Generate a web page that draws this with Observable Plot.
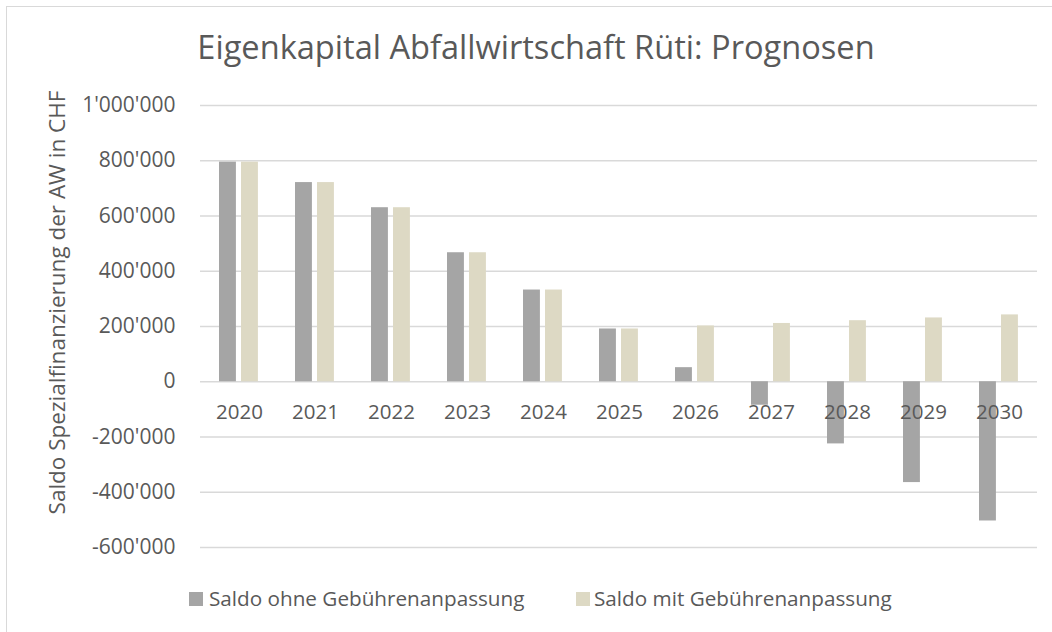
<!DOCTYPE html>
<html>
<head>
<meta charset="utf-8">
<script src="https://cdn.jsdelivr.net/npm/d3@7"></script>
<script src="https://cdn.jsdelivr.net/npm/@observablehq/plot@0.6"></script>
<style>
  html, body { margin: 0; padding: 0; background: #fff; overflow: hidden; }
  #wrap { position: relative; width: 1052px; height: 632px; font-family: "Open Sans", sans-serif; color: #595959; }
  #frame { position: absolute; left: 6px; top: 6px; width: 1100px; height: 700px; border: 1px solid #d9d9d9; pointer-events: none; }
  #title { position: relative; height: 75px; }
  #title span { position: absolute; left: 0; width: 1072px; top: 31px; text-align: center; font-size: 32.6px; line-height: 32.6px; white-space: nowrap; }
  #legend { position: relative; height: 67px; font-size: 20.7px; }
  .sw { position: absolute; width: 14px; height: 14px; }
  .lt { position: absolute; line-height: 20.7px; white-space: nowrap; }
  svg { overflow: visible; }
</style>
</head>
<body>
<div id="wrap">
  <div id="frame"></div>
  <div id="title"><span>Eigenkapital Abfallwirtschaft Rüti: Prognosen</span></div>
  <div id="chart"></div>
  <div id="legend"></div>
</div>
<script>
const years = ["2020","2021","2022","2023","2024","2025","2026","2027","2028","2029","2030"];
const saldoOhne = [795000, 721000, 630000, 467000, 332000, 191000, 51000, -85000, -225000, -365000, -504000];
const saldoMit  = [795000, 721000, 630000, 467000, 332000, 191000, 202000, 211000, 221000, 231000, 242000];
const seriesNames = ["Saldo ohne Gebührenanpassung", "Saldo mit Gebührenanpassung"];
const seriesColors = ["#a5a5a5", "#ddd9c4"];
const yTicks = [-600000, -400000, -200000, 0, 200000, 400000, 600000, 800000, 1000000];
const yLabel = "Saldo Spezialfinanzierung der AW in CHF";

const ohneData = years.map((y, i) => ({year: y, value: saldoOhne[i]}));
const mitData = years.map((y, i) => ({year: y, value: saldoMit[i]}));

const fmt = d3.formatLocale({decimal: ".", thousands: "'", grouping: [3], currency: ["", ""], minus: "-"}).format(",");

const chart = Plot.plot({
  width: 1052,
  height: 490,
  marginLeft: 200,
  marginRight: 15,
  marginTop: 30,
  marginBottom: 18,
  x: {domain: years, padding: 0, axis: null},
  y: {domain: [-600000, 1000000], axis: null},
  style: {fontFamily: "Open Sans", fontSize: "20px", color: "#595959", background: "transparent", overflow: "visible"},
  marks: [
    Plot.ruleY(yTicks, {stroke: "#d9d9d9", strokeWidth: 1.3}),
    Plot.barY(ohneData, {x: "year", y: "value", fill: seriesColors[0], insetLeft: 18, insetRight: 41.1}),
    Plot.barY(mitData, {x: "year", y: "value", fill: seriesColors[1], insetLeft: 40, insetRight: 19.1}),
    Plot.axisY({ticks: yTicks, tickFormat: fmt, tickSize: 0, tickPadding: 25, label: null, fontSize: 21}),
    Plot.text(years, {x: d => d, y: 0, dy: 31, fontSize: 20.5, fill: "#595959"}),
    Plot.text([yLabel], {frameAnchor: "left", rotate: -90, dx: -143, dy: -24, textAnchor: "middle", fontSize: 22.5, fill: "#595959"})
  ]
});
document.getElementById("chart").appendChild(chart);

const legend = document.getElementById("legend");
const legendPos = [{sq: 189, tx: 209}, {sq: 576, tx: 594}];
seriesNames.forEach((name, i) => {
  const sw = document.createElement("div");
  sw.className = "sw";
  sw.style.left = legendPos[i].sq + "px";
  sw.style.top = (592 - 565) + "px";
  sw.style.background = seriesColors[i];
  legend.appendChild(sw);
  const t = document.createElement("div");
  t.className = "lt";
  t.style.left = legendPos[i].tx + "px";
  t.style.top = (588 - 565) + "px";
  t.textContent = name;
  legend.appendChild(t);
});
</script>
</body>
</html>
